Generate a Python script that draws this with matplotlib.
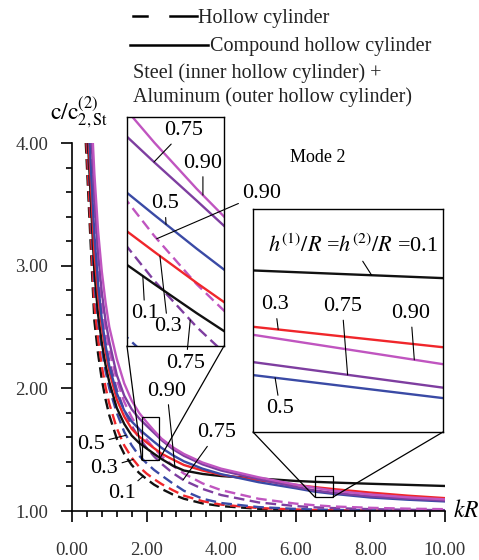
import numpy as np
import matplotlib.pyplot as plt
from matplotlib import ticker as mtick
from matplotlib.lines import Line2D
from matplotlib.patches import Rectangle, ConnectionPatch

plt.rcParams['font.family'] = ['Liberation Serif', 'DejaVu Serif']
plt.rcParams['mathtext.fontset'] = 'stix'

# dados (kR comum a todas as curvas)
kr = [0.6, 0.7, 0.8, 0.9, 1.0, 1.2, 1.4, 1.6, 1.8, 2.0, 2.2, 2.4, 2.7,
      3.0, 3.5, 4.0, 5.0, 6.0, 6.5, 7.0, 8.0, 9.0, 10.0]

# kR onde cada curva entra no topo do gráfico (c/c = 4.00)
c_top = 4.0
kr_top_hollow = [0.37, 0.39, 0.42, 0.48, 0.50]
kr_top_compound = [0.43, 0.45, 0.47, 0.53, 0.56]

# cilindro oco (tracejado)
hollow_01 = [2.55, 2.28, 2.07, 1.91, 1.78, 1.59, 1.465, 1.375, 1.31, 1.26, 1.215, 1.18, 1.135,
             1.10, 1.062, 1.04, 1.018, 1.008, 1.005, 1.003, 1.001, 1.0, 0.999]
hollow_03 = [2.68, 2.40, 2.18, 2.01, 1.875, 1.675, 1.535, 1.435, 1.36, 1.305, 1.26, 1.22, 1.17,
             1.125, 1.08, 1.052, 1.024, 1.012, 1.008, 1.006, 1.003, 1.001, 1.0]
hollow_05 = [2.85, 2.55, 2.32, 2.14, 2.0, 1.80, 1.645, 1.535, 1.45, 1.39, 1.335, 1.29, 1.225,
             1.165, 1.10, 1.065, 1.032, 1.017, 1.012, 1.009, 1.005, 1.003, 1.001]
hollow_075 = [3.15, 2.82, 2.57, 2.37, 2.22, 1.99, 1.82, 1.695, 1.595, 1.515, 1.445, 1.385, 1.31,
              1.25, 1.18, 1.13, 1.07, 1.04, 1.03, 1.024, 1.015, 1.01, 1.007]
hollow_090 = [3.35, 2.98, 2.70, 2.48, 2.31, 2.07, 1.89, 1.765, 1.665, 1.583, 1.51, 1.448, 1.37,
              1.305, 1.225, 1.17, 1.10, 1.06, 1.047, 1.037, 1.026, 1.019, 1.015]

# cilindro oco composto (linha cheia)
compound_01 = [2.95, 2.60, 2.37, 2.19, 2.05, 1.84, 1.71, 1.615, 1.555, 1.51, 1.466, 1.424, 1.37,
               1.33, 1.302, 1.285, 1.265, 1.245, 1.238, 1.232, 1.222, 1.213, 1.204]
compound_03 = [3.10, 2.75, 2.50, 2.30, 2.14, 1.91, 1.77, 1.67, 1.607, 1.559, 1.512, 1.467, 1.42,
               1.375, 1.33, 1.295, 1.25, 1.213, 1.195, 1.179, 1.15, 1.125, 1.105]
compound_05 = [3.25, 2.85, 2.56, 2.35, 2.18, 1.96, 1.82, 1.73, 1.667, 1.615, 1.564, 1.515, 1.455,
               1.405, 1.345, 1.30, 1.235, 1.185, 1.158, 1.140, 1.11, 1.092, 1.078]
compound_075 = [3.55, 3.10, 2.78, 2.55, 2.38, 2.11, 1.94, 1.83, 1.755, 1.695, 1.637, 1.578, 1.505,
                1.45, 1.38, 1.33, 1.26, 1.196, 1.168, 1.148, 1.12, 1.10, 1.085]
compound_090 = [3.75, 3.28, 2.95, 2.70, 2.50, 2.24, 2.04, 1.90, 1.80, 1.725, 1.655, 1.59, 1.52,
                1.465, 1.395, 1.345, 1.275, 1.215, 1.189, 1.166, 1.135, 1.112, 1.095]

colors = ['#111111', '#f0262b', '#3a4aa5', '#7e3ea0', '#c055c0']
hollow = [hollow_01, hollow_03, hollow_05, hollow_075, hollow_090]
compound = [compound_01, compound_03, compound_05, compound_075, compound_090]

# janelas de zoom
zoom1_x, zoom1_y = (1.87, 2.33), (1.416, 1.764)
zoom2_x, zoom2_y = (6.51, 7.0), (1.114, 1.285)

W, H = 479, 560
fs_lab = 16


def draw_curves(axis):
    for x0, ys, col in zip(kr_top_hollow, hollow, colors):
        axis.plot([x0] + kr, [c_top] + ys, color=col, lw=1.7, dashes=(4.5, 2.3))
    for x0, ys, col in zip(kr_top_compound, compound, colors):
        axis.plot([x0] + kr, [c_top] + ys, color=col, lw=1.7)


def label(axis, text, xytext, x_at, ys, fs=fs_lab):
    y_at = np.interp(x_at, kr, ys)
    axis.annotate(text, xy=(x_at, y_at), xytext=xytext, ha='center', va='center',
                  fontsize=fs, annotation_clip=False,
                  arrowprops=dict(arrowstyle='-', lw=0.8, color='k', shrinkA=1, shrinkB=0))


def zoom_box(ax, axins, xl, yl):
    ax.add_patch(Rectangle((xl[0], yl[0]), xl[1] - xl[0], yl[1] - yl[0],
                           fill=False, lw=0.9, ec='k', zorder=6))
    for i in (0, 1):
        con = ConnectionPatch(xyA=(i, 0), coordsA=axins.transAxes,
                              xyB=(xl[i], yl[0]), coordsB=ax.transData, lw=0.9, color='k')
        ax.figure.add_artist(con)


fig = plt.figure(figsize=(W / 100, H / 100), dpi=100)
ax = fig.add_axes([72 / W, 1 - 511 / H, 373 / W, 368 / H])

draw_curves(ax)

ax.set_xlim(0, 10)
ax.set_ylim(1, 4)

ax.spines['right'].set_visible(False)
ax.spines['top'].set_visible(False)
ax.spines['left'].set_linewidth(1.2)
ax.spines['bottom'].set_linewidth(1.2)

ax.xaxis.set_major_locator(mtick.MultipleLocator(2))
ax.xaxis.set_minor_locator(mtick.MultipleLocator(0.4))
ax.yaxis.set_major_locator(mtick.MultipleLocator(1))
ax.yaxis.set_minor_locator(mtick.MultipleLocator(0.2))
ax.xaxis.set_major_formatter(mtick.FormatStrFormatter('%.2f'))
ax.yaxis.set_major_formatter(mtick.FormatStrFormatter('%.2f'))
ax.tick_params(which='both', direction='out', width=1.2, labelsize=13.5, colors='k')
ax.tick_params(which='major', length=8)
ax.tick_params(which='minor', length=4.5)
ax.tick_params(axis='x', which='major', pad=14, labelcolor='#333333')
ax.tick_params(axis='y', which='major', pad=9, labelcolor='#333333')

ax.text(1.021, 0, '$kR$', transform=ax.transAxes, ha='left', va='center', fontsize=17)

# rótulos das curvas tracejadas
label(ax, '0.5', (0.51, 1.546), 1.45, hollow_05)
label(ax, '0.3', (0.86, 1.35), 1.64, hollow_03)
label(ax, '0.1', (1.34, 1.139), 1.91, hollow_01)
label(ax, '0.90', (2.547, 1.978), 2.76, hollow_090)
label(ax, '0.75', (3.887, 1.636), 2.98, hollow_075)

# zoom 1
axins1 = ax.inset_axes([(127 - 72) / 373, (511 - 346) / 368, 97 / 373, 229 / 368])
draw_curves(axins1)
axins1.set_xlim(*zoom1_x)
axins1.set_ylim(*zoom1_y)
axins1.set_xticks([])
axins1.set_yticks([])
for s in axins1.spines.values():
    s.set_linewidth(1.0)
zoom_box(ax, axins1, zoom1_x, zoom1_y)

label(axins1, '0.75', (2.140, 1.743), 1.998, compound_075)
label(axins1, '0.90', (2.230, 1.694), 2.23, compound_090)
label(axins1, '0.5', (2.050, 1.632), 2.055, compound_05)
label(axins1, '0.1', (1.955, 1.465), 1.945, compound_01)
label(axins1, '0.3', (2.064, 1.445), 2.026, compound_03)
label(axins1, '0.90', (2.510, 1.648), 2.011, hollow_090)
label(axins1, '0.75', (2.150, 1.390), 2.17, hollow_075)

# zoom 2
axins2 = ax.inset_axes([(253 - 72) / 373, (511 - 432) / 368, 190 / 373, 223 / 368])
draw_curves(axins2)
axins2.set_xlim(*zoom2_x)
axins2.set_ylim(*zoom2_y)
axins2.set_xticks([])
axins2.set_yticks([])
for s in axins2.spines.values():
    s.set_linewidth(1.0)
zoom_box(ax, axins2, zoom2_x, zoom2_y)

label(axins2, r'$h^{(1)}/R$ =$h^{(2)}/R$ =0.1', (6.768, 1.2566), 6.816, compound_01)
label(axins2, '0.3', (6.567, 1.2114), 6.575, compound_03)
label(axins2, '0.75', (6.740, 1.2102), 6.754, compound_075)
label(axins2, '0.90', (6.917, 1.2049), 6.926, compound_090)
label(axins2, '0.5', (6.580, 1.1317), 6.567, compound_05)

# legenda e textos
fig.add_artist(Line2D([133 / W, 147 / W], [1 - 15.7 / H] * 2, color='k', lw=1.8))
fig.add_artist(Line2D([170 / W, 197 / W], [1 - 15.7 / H] * 2, color='k', lw=1.8))
fig.add_artist(Line2D([130 / W, 208 / W], [1 - 45 / H] * 2, color='k', lw=1.8))
fig.text(198 / W, 1 - 22.5 / H, 'Hollow cylinder', fontsize=14.5, va='baseline', color='#222222')
fig.text(210 / W, 1 - 51.5 / H, 'Compound hollow cylinder', fontsize=14.5, va='baseline', color='#222222')
fig.text(133 / W, 1 - 78 / H, 'Steel (inner hollow cylinder) +', fontsize=14.5, va='baseline', color='#222222')
fig.text(133 / W, 1 - 102 / H, 'Aluminum (outer hollow cylinder)', fontsize=14.5, va='baseline', color='#222222')
fig.text(50 / W, 1 - 112 / H, r'$\mathrm{c/c}_{2,\mathrm{St}}^{(2)}$', fontsize=17, ha='left', va='center')
fig.text(318 / W, 1 - 157 / H, 'Mode 2', fontsize=13, ha='center', va='center')

fig.savefig('out.png', dpi=100)
